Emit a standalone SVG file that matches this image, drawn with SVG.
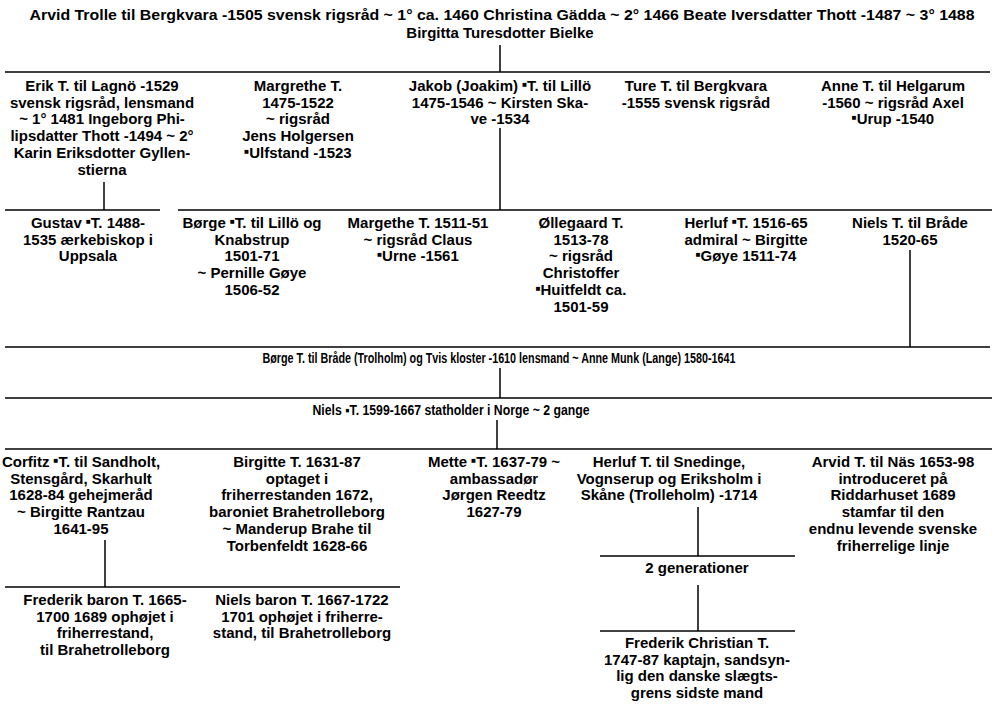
<svg xmlns="http://www.w3.org/2000/svg" width="995" height="704" viewBox="0 0 995 704">
<style>
text{font-family:"Liberation Sans",Arial,sans-serif;font-weight:bold;font-size:15px;fill:#000;text-anchor:middle}
.m{font-size:8px;baseline-shift:45%}
.c{font-size:14px}
#conn line{stroke:#000;stroke-width:1.5}
</style>
<rect width="995" height="704" fill="#fff"/>
<g id="conn">
<line x1="500" y1="45" x2="500" y2="72"/>
<line x1="5" y1="72" x2="990" y2="72"/>
<line x1="104" y1="182" x2="104" y2="210"/>
<line x1="5" y1="210" x2="160" y2="210"/>
<line x1="500" y1="128" x2="500" y2="210"/>
<line x1="178" y1="210" x2="992" y2="210"/>
<line x1="910" y1="250" x2="910" y2="347"/>
<line x1="5" y1="347" x2="990" y2="347"/>
<line x1="500" y1="368" x2="500" y2="398"/>
<line x1="5" y1="398" x2="992" y2="398"/>
<line x1="497" y1="420" x2="497" y2="449"/>
<line x1="5" y1="449" x2="992" y2="449"/>
<line x1="105" y1="540" x2="105" y2="587"/>
<line x1="5" y1="587" x2="400" y2="587"/>
<line x1="698" y1="507" x2="698" y2="556"/>
<line x1="600" y1="556" x2="795" y2="556"/>
<line x1="698" y1="585" x2="698" y2="631"/>
<line x1="600" y1="631" x2="795" y2="631"/>
</g>
<g id="arvid"><text><tspan x="502" y="20" textLength="945" lengthAdjust="spacingAndGlyphs">Arvid Trolle til Bergkvara -1505 svensk rigsråd ~ 1° ca. 1460 Christina Gädda ~ 2° 1466 Beate Iversdatter Thott -1487 ~ 3° 1488</tspan><tspan x="500" y="38">Birgitta Turesdotter Bielke</tspan></text></g>
<g id="erik"><text><tspan x="102" y="91">Erik T. til Lagnö -1529</tspan><tspan x="102" dy="16.7">svensk rigsråd, lensmand</tspan><tspan x="102" dy="16.7">~ 1° 1481 Ingeborg Phi-</tspan><tspan x="102" dy="16.7">lipsdatter Thott -1494 ~ 2°</tspan><tspan x="102" dy="16.7">Karin Eriksdotter Gyllen-</tspan><tspan x="102" dy="16.7">stierna</tspan></text></g>
<g id="margrethe"><text><tspan x="298" y="91">Margrethe T.</tspan><tspan x="298" dy="16.7">1475-1522</tspan><tspan x="298" dy="16.7">~ rigsråd</tspan><tspan x="298" dy="16.7">Jens Holgersen</tspan><tspan x="298" dy="16.7"><tspan class="m">■</tspan>Ulfstand -1523</tspan></text></g>
<g id="jakob"><text><tspan x="500" y="91">Jakob (Joakim) <tspan class="m">■</tspan>T. til Lillö</tspan><tspan x="500" dy="16.7">1475-1546 ~ Kirsten Ska-</tspan><tspan x="500" dy="16.7">ve -1534</tspan></text></g>
<g id="ture"><text><tspan x="696" y="91">Ture T. til Bergkvara</tspan><tspan x="696" dy="16.7">-1555 svensk rigsråd</tspan></text></g>
<g id="anne"><text><tspan x="893" y="91">Anne T. til Helgarum</tspan><tspan x="893" dy="16.7">-1560 ~ rigsråd Axel</tspan><tspan x="893" dy="16.7"><tspan class="m">■</tspan>Urup -1540</tspan></text></g>
<g id="gustav"><text><tspan x="88" y="228">Gustav <tspan class="m">■</tspan>T. 1488-</tspan><tspan x="88" dy="16.7">1535 ærkebiskop i</tspan><tspan x="88" dy="16.7">Uppsala</tspan></text></g>
<g id="borge1"><text><tspan x="252" y="228">Børge <tspan class="m">■</tspan>T. til Lillö og</tspan><tspan x="252" dy="16.7">Knabstrup</tspan><tspan x="252" dy="16.7">1501-71</tspan><tspan x="252" dy="16.7">~ Pernille Gøye</tspan><tspan x="252" dy="16.7">1506-52</tspan></text></g>
<g id="margethe"><text><tspan x="418" y="228">Margethe T. 1511-51</tspan><tspan x="418" dy="16.7">~ rigsråd Claus</tspan><tspan x="418" dy="16.7"><tspan class="m">■</tspan>Urne -1561</tspan></text></g>
<g id="ollegaard"><text><tspan x="581" y="228">Øllegaard T.</tspan><tspan x="581" dy="16.7">1513-78</tspan><tspan x="581" dy="16.7">~ rigsråd</tspan><tspan x="581" dy="16.7">Christoffer</tspan><tspan x="581" dy="16.7"><tspan class="m">■</tspan>Huitfeldt ca.</tspan><tspan x="581" dy="16.7">1501-59</tspan></text></g>
<g id="herluf1"><text><tspan x="746" y="228">Herluf <tspan class="m">■</tspan>T. 1516-65</tspan><tspan x="746" dy="16.7">admiral ~ Birgitte</tspan><tspan x="746" dy="16.7"><tspan class="m">■</tspan>Gøye 1511-74</tspan></text></g>
<g id="nielsbrade"><text><tspan x="910" y="228">Niels T. til Bråde</tspan><tspan x="910" dy="16.7">1520-65</tspan></text></g>
<g id="borge2"><text class="c" x="499" y="363" textLength="473" lengthAdjust="spacingAndGlyphs">Børge T. til Bråde (Trolholm) og Tvis kloster -1610 lensmand ~ Anne Munk (Lange) 1580-1641</text></g>
<g id="niels"><text class="c" x="451" y="415" textLength="277" lengthAdjust="spacingAndGlyphs">Niels ▪T. 1599-1667 statholder i Norge ~ 2 gange</text></g>
<g id="corfitz"><text><tspan x="81" y="467">Corfitz <tspan class="m">■</tspan>T. til Sandholt,</tspan><tspan x="81" dy="16.7">Stensgård, Skarhult</tspan><tspan x="81" dy="16.7">1628-84 gehejmeråd</tspan><tspan x="81" dy="16.7">~ Birgitte Rantzau</tspan><tspan x="81" dy="16.7">1641-95</tspan></text></g>
<g id="birgitte"><text><tspan x="297" y="467">Birgitte T. 1631-87</tspan><tspan x="297" dy="16.7">optaget i</tspan><tspan x="297" dy="16.7">friherrestanden 1672,</tspan><tspan x="297" dy="16.7">baroniet Brahetrolleborg</tspan><tspan x="297" dy="16.7">~ Manderup Brahe til</tspan><tspan x="297" dy="16.7">Torbenfeldt 1628-66</tspan></text></g>
<g id="mette"><text><tspan x="494" y="467">Mette <tspan class="m">■</tspan>T. 1637-79 ~</tspan><tspan x="494" dy="16.7">ambassadør</tspan><tspan x="494" dy="16.7">Jørgen Reedtz</tspan><tspan x="494" dy="16.7">1627-79</tspan></text></g>
<g id="herluf2"><text><tspan x="669" y="467">Herluf T. til Snedinge,</tspan><tspan x="669" dy="16.7">Vognserup og Eriksholm i</tspan><tspan x="669" dy="16.7">Skåne (Trolleholm) -1714</tspan></text></g>
<g id="arvid2"><text><tspan x="893" y="467">Arvid T. til Näs 1653-98</tspan><tspan x="893" dy="16.7">introduceret på</tspan><tspan x="893" dy="16.7">Riddarhuset 1689</tspan><tspan x="893" dy="16.7">stamfar til den</tspan><tspan x="893" dy="16.7">endnu levende svenske</tspan><tspan x="893" dy="16.7">friherrelige linje</tspan></text></g>
<g id="gen"><text x="697" y="573">2 generationer</text></g>
<g id="frederik"><text><tspan x="105" y="605">Frederik baron T. 1665-</tspan><tspan x="105" dy="16.7">1700 1689 ophøjet i</tspan><tspan x="105" dy="16.7">friherrestand,</tspan><tspan x="105" dy="16.7">til Brahetrolleborg</tspan></text></g>
<g id="nielsbaron"><text><tspan x="302" y="605">Niels baron T. 1667-1722</tspan><tspan x="302" dy="16.7">1701 ophøjet i friherre-</tspan><tspan x="302" dy="16.7">stand, til Brahetrolleborg</tspan></text></g>
<g id="fredchr"><text><tspan x="697" y="648">Frederik Christian T.</tspan><tspan x="697" dy="16.7">1747-87 kaptajn, sandsyn-</tspan><tspan x="697" dy="16.7">lig den danske slægts-</tspan><tspan x="697" dy="16.7">grens sidste mand</tspan></text></g>
</svg>
